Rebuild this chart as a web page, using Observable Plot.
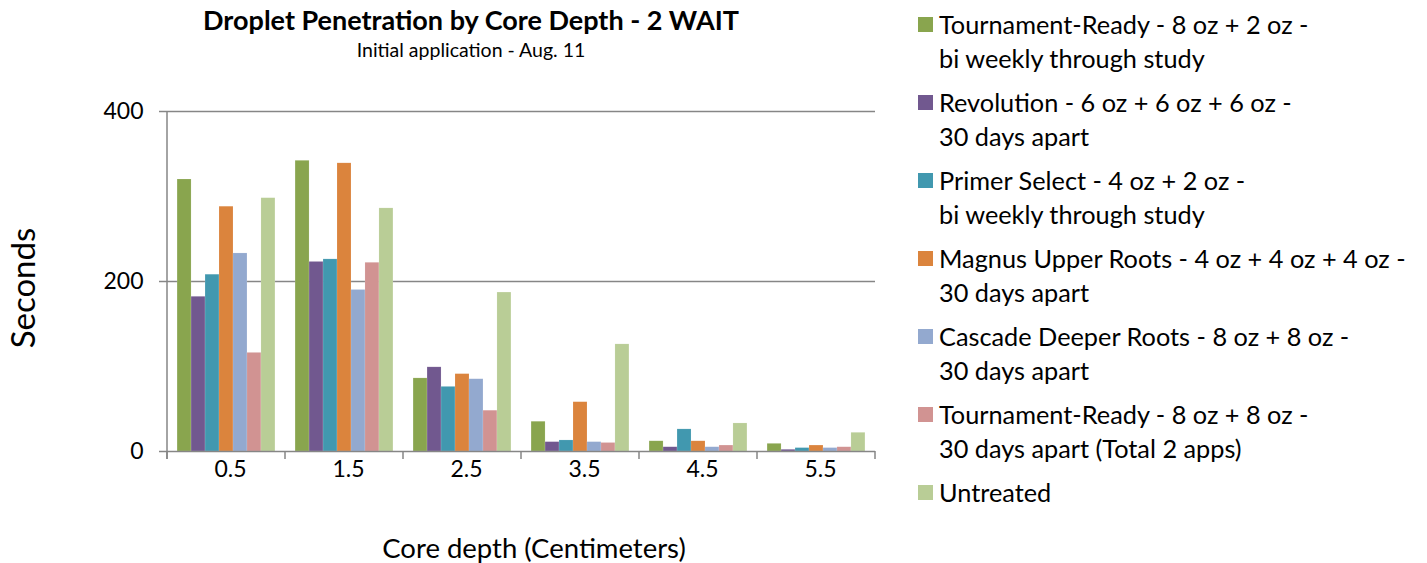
<!DOCTYPE html>
<html>
<head>
<meta charset="utf-8">
<script src="https://cdn.jsdelivr.net/npm/d3@7"></script>
<script src="https://cdn.jsdelivr.net/npm/@observablehq/plot@0.6"></script>
<style>
  html, body { margin: 0; padding: 0; background: #fff; }
  #wrap { position: relative; width: 1427px; height: 563px; font-family: Lato, "Noto Sans", sans-serif; color: #000; overflow: hidden; }
  #chart { position: absolute; left: 0; top: 0; }
  .txt { position: absolute; white-space: nowrap; }
  #title { left: 471px; top: 20px; transform: translate(-50%, -50%); font-weight: bold; font-size: 27px; line-height: 28px; }
  #subtitle { left: 471px; top: 50px; transform: translate(-50%, -50%); font-size: 19.5px; line-height: 20px; }
  #ylabel { left: 22px; top: 288px; transform: translate(-50%, -50%) rotate(-90deg); font-size: 33px; line-height: 34px; }
  #xlabel { left: 534px; top: 548px; transform: translate(-50%, -50%); font-size: 27.5px; line-height: 28px; }
  #legend { position: absolute; left: 918px; top: 7px; }
  .entry { display: flex; align-items: flex-start; margin-bottom: 10px; }
  .sw { width: 15px; height: 15px; margin-top: 10px; margin-right: 6px; flex: none; }
  .lab { font-size: 25.3px; line-height: 34px; white-space: pre; }
</style>
</head>
<body>
<div id="wrap">
  <div id="chart"></div>
  <div class="txt" id="title"></div>
  <div class="txt" id="subtitle"></div>
  <div class="txt" id="ylabel"></div>
  <div class="txt" id="xlabel"></div>
  <div id="legend"></div>
</div>
<script>
const titleText = "Droplet Penetration by Core Depth - 2 WAIT";
const subtitleText = "Initial application - Aug. 11";
const yLabel = "Seconds";
const xLabel = "Core depth (Centimeters)";

const depths = ["0.5", "1.5", "2.5", "3.5", "4.5", "5.5"];
const yTicks = [0, 200, 400];

const seriesNames = [
  "Tournament-Ready - 8 oz + 2 oz -\nbi weekly through study",
  "Revolution - 6 oz + 6 oz + 6 oz -\n30 days apart",
  "Primer Select - 4 oz + 2 oz -\nbi weekly through study",
  "Magnus Upper Roots - 4 oz + 4 oz + 4 oz -\n30 days apart",
  "Cascade Deeper Roots - 8 oz + 8 oz -\n30 days apart",
  "Tournament-Ready - 8 oz + 8 oz -\n30 days apart (Total 2 apps)",
  "Untreated"
];
const seriesColors = ["#89A54E", "#71588F", "#4198AF", "#DB843D", "#93A9CF", "#D19392", "#B9CD96"];

const tournament2oz = [320, 342, 86, 35, 12, 9];
const revolution    = [182, 223, 99, 11, 5, 2];
const primerSelect  = [208, 226, 76, 13, 26, 4];
const magnus        = [288, 339, 91, 58, 12, 7];
const cascade       = [233, 190, 85, 11, 5, 4];
const tournament8oz = [116, 222, 48, 10, 7, 5];
const untreated     = [298, 286, 187, 126, 33, 22];

const seriesValues = [tournament2oz, revolution, primerSelect, magnus, cascade, tournament8oz, untreated];

const rows = [];
seriesNames.forEach((s, i) => depths.forEach((d, j) => rows.push({series: s, depth: d, value: seriesValues[i][j]})));

const axisGray = "#868686";

const plot = Plot.plot({
  width: 880,
  height: 563,
  marginLeft: 166,
  marginRight: 5,
  marginTop: 111,
  marginBottom: 112,
  style: {fontFamily: "Lato, 'Noto Sans', sans-serif", fontSize: "22px", color: "#000", background: "transparent", overflow: "visible"},
  fx: {domain: depths, padding: 0, label: null},
  x: {domain: seriesNames, paddingInner: 0, paddingOuter: 0.72, round: false, axis: null},
  y: {domain: [0, 400], label: null},
  color: {domain: seriesNames, range: seriesColors},
  marks: [
    Plot.gridY({ticks: [200, 400], stroke: axisGray, strokeOpacity: 1, strokeWidth: 1.5}),
    Plot.barY(rows, {fx: "depth", x: "series", y: "value", fill: "series", stroke: "#fff", strokeOpacity: 0.25, strokeWidth: 0.5}),
    Plot.ruleY([0], {stroke: axisGray, strokeWidth: 1.5}),
    Plot.axisY({ticks: yTicks, tickSize: 8, tickPadding: 16, stroke: axisGray, strokeWidth: 1.5, fontSize: 23, label: null}),
    Plot.axisFx({anchor: "bottom", tickSize: 0, tickPadding: 9, dx: 4, fontSize: 23, label: null})
  ]
});

document.getElementById("chart").appendChild(plot);

// Excel-style axis line and category-boundary ticks, positioned from Plot's own scales
const fx = plot.scale("fx");
const ys = plot.scale("y");
const svg = d3.select(plot);
const bw = fx.bandwidth;
const edges = depths.map(d => fx.apply(d)).concat([fx.apply(depths[depths.length - 1]) + bw]);
const y0 = ys.apply(0), yTop = ys.apply(yTicks[yTicks.length - 1]);
const g = svg.append("g").attr("stroke", axisGray).attr("stroke-width", 1.5);
g.append("line").attr("x1", edges[0]).attr("x2", edges[0]).attr("y1", yTop).attr("y2", y0 + 8);
edges.forEach(x => g.append("line").attr("x1", x).attr("x2", x).attr("y1", y0).attr("y2", y0 + 8));

document.getElementById("title").textContent = titleText;
document.getElementById("subtitle").textContent = subtitleText;
document.getElementById("ylabel").textContent = yLabel;
document.getElementById("xlabel").textContent = xLabel;

const legend = d3.select("#legend");
seriesNames.forEach((s, i) => {
  const e = legend.append("div").attr("class", "entry");
  e.append("div").attr("class", "sw").style("background", seriesColors[i]);
  e.append("div").attr("class", "lab").text(s);
});
</script>
</body>
</html>
